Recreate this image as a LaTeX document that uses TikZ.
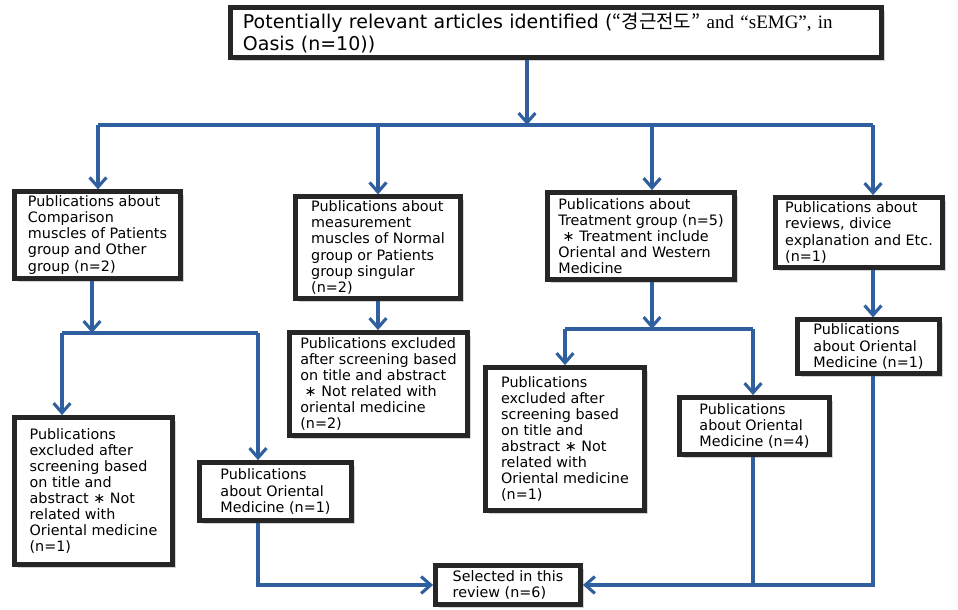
\documentclass[tikz,border=0pt]{standalone}
\usepackage{fontspec}
\setmainfont{DejaVu Sans}
\newfontfamily\korfont{Noto Sans CJK KR}
\newfontfamily\serifpart{Liberation Serif}
\usetikzlibrary{arrows.meta,shadows}
\definecolor{flowblue}{HTML}{2F5F9E}

\begin{document}
\begin{tikzpicture}[
  x=0.025cm, y=-0.025cm,
  box/.style={draw=black!85, line width=3.4pt, fill=white, align=left, inner sep=3pt,
    font=\fontsize{10.2}{11.4}\selectfont,
    drop shadow={opacity=0.35, shadow xshift=2.5pt, shadow yshift=-2.5pt}},
  arrow/.style={-{Straight Barb[length=2.4mm, width=4.2mm]}, line width=2.2pt, color=flowblue},
  link/.style={line width=2.2pt, color=flowblue}
]
\useasboundingbox (0,0) rectangle (958,610);

\node[box, font=\fontsize{13.5}{15.6}\selectfont, text width=15.65cm, minimum width=16.275cm, minimum height=1.25cm] (src) at (556,32.5)
  {Potentially relevant articles identified ({\korfont “경근전도”}{\serifpart{} and “sEMG”, in}\\Oasis (n=10))};

% --- first split ---------------------------------------------------------
\coordinate (split) at (527,125);
\coordinate (b1) at (98,125);
\coordinate (b2) at (378,125);
\coordinate (b3) at (652,125);
\coordinate (b4) at (873,125);

\node[box, minimum width=4.15cm,  minimum height=2.125cm] (comp)  at (97.5,235)
  {Publications about\\Comparison\\muscles of Patients\\group and Other\\group (n=2)};
\node[box, minimum width=4.125cm, minimum height=2.5cm]   (meas)  at (378,247.5)
  {Publications about\\measurement\\muscles of Normal\\group or Patients\\group singular\\(n=2)};
\node[box, minimum width=4.675cm, minimum height=2.175cm] (treat) at (641,236)
  {Publications about\\Treatment group (n=5)\\\hspace*{0.3em}∗ Treatment include\\Oriental and Western\\Medicine};
\node[box, minimum width=4.175cm, minimum height=1.75cm]  (rev)   at (859,232.5)
  {Publications about\\reviews, divice\\explanation and Etc.\\(n=1)};

\draw[arrow] (src.south -| split) -- (split);
\draw[link] (b1) -- (b4);
\draw[arrow] (b1) -- (b1 |- comp.north);
\draw[arrow] (b2) -- (b2 |- meas.north);
\draw[arrow] (b3) -- (b3 |- treat.north);
\draw[arrow] (b4) -- (b4 |- rev.north);

% --- second level --------------------------------------------------------
\node[box, minimum width=3.95cm,  minimum height=3.675cm] (excA) at (93.5,491)
  {Publications\\excluded after\\screening based\\on title and\\abstract ∗ Not\\related with\\Oriental medicine\\(n=1)};
\node[box, minimum width=3.8cm,   minimum height=1.45cm]  (oriA) at (275.5,491.5)
  {Publications\\about Oriental\\Medicine (n=1)};
\node[box, minimum width=4.45cm,  minimum height=2.575cm] (excB) at (378.5,384)
  {Publications excluded\\after screening based\\on title and abstract\\\hspace*{0.3em}∗ Not related with\\oriental medicine\\(n=2)};
\node[box, minimum width=3.975cm, minimum height=3.575cm] (excC) at (565,439)
  {Publications\\excluded after\\screening based\\on title and\\abstract ∗ Not\\related with\\Oriental medicine\\(n=1)};
\node[box, minimum width=3.75cm,  minimum height=1.425cm] (oriC) at (754.5,426)
  {Publications\\about Oriental\\Medicine (n=4)};
\node[box, minimum width=3.55cm,  minimum height=1.3cm]   (oriD) at (868.5,346.5)
  {Publications\\about Oriental\\Medicine (n=1)};

\coordinate (sa) at (92,333);
\coordinate (sa1) at (62,333);
\coordinate (sa2) at (258,333);
\draw[arrow] (comp.south -| sa) -- (sa);
\draw[link] (sa1) -- (sa2);
\draw[arrow] (sa1) -- (sa1 |- excA.north);
\draw[arrow] (sa2) -- (sa2 |- oriA.north);

\draw[arrow] (meas.south) -- (meas.south |- excB.north);

\coordinate (sc) at (652,329);
\coordinate (sc1) at (565,329);
\coordinate (sc2) at (753,329);
\draw[arrow] (treat.south -| sc) -- (sc);
\draw[link] (sc1) -- (sc2);
\draw[arrow] (sc1) -- (sc1 |- excC.north);
\draw[arrow] (sc2) -- (sc2 |- oriC.north);

\draw[arrow] (rev.south -| b4) -- (b4 |- oriD.north);

% --- result --------------------------------------------------------------
\node[box, minimum width=3.625cm, minimum height=0.975cm] (sel) at (508,585)
  {Selected in this\\review (n=6)};

\draw[arrow] (oriA.south -| sa2) |- (sel.west);
\draw[arrow] (oriD.south -| b4) |- (sel.east);
\draw[link] (oriC.south -| sc2) -- (sc2 |- sel.east);

\end{tikzpicture}
\end{document}
